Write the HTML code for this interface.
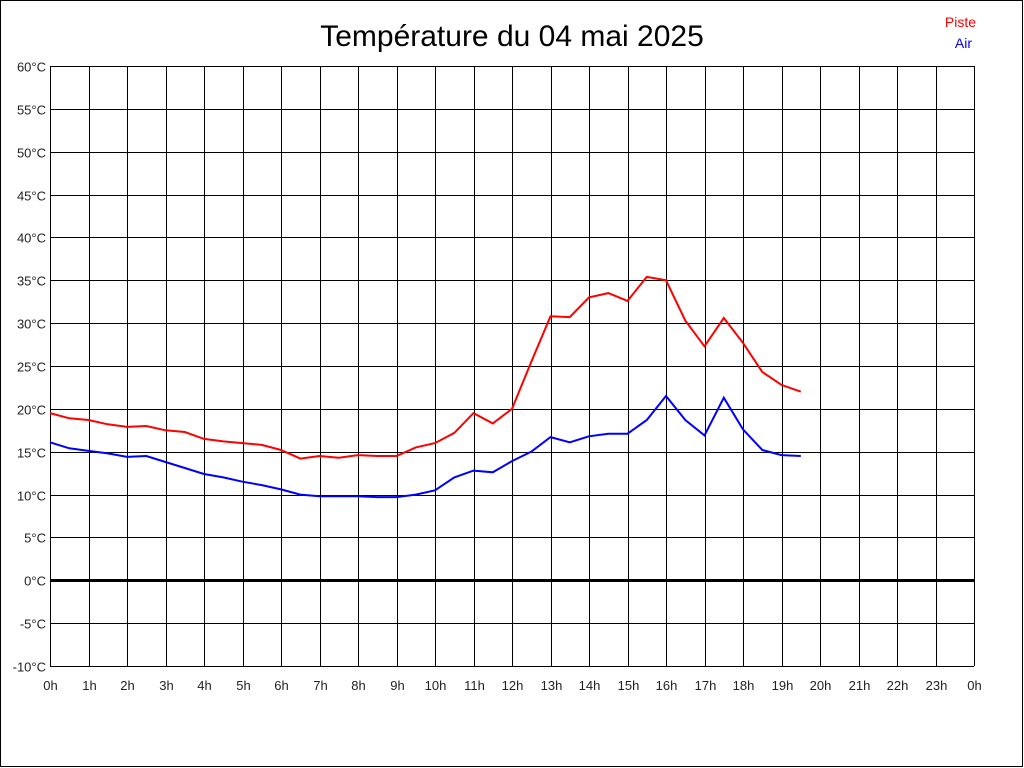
<!DOCTYPE html>
<html><head><meta charset="utf-8"><style>
html,body{margin:0;padding:0;background:#fff;}
svg{display:block;font-family:"Liberation Sans",sans-serif;}
</style></head><body>
<svg id="chart" width="1024" height="768">
<rect x="0.5" y="0.5" width="1022" height="766" fill="#fff" stroke="#000"/>
<text x="512" y="46" font-size="30" text-anchor="middle">Température du 04 mai 2025</text>
<text x="976" y="27" font-size="14" fill="#f00" text-anchor="end">Piste</text>
<text x="972" y="48" font-size="14" fill="#00f" text-anchor="end">Air</text>
<g id="grid"></g><g id="series"></g>
</svg>
<script>
const hours = [0,0.5,1,1.5,2,2.5,3,3.5,4,4.5,5,5.5,6,6.5,7,7.5,8,8.5,9,9.5,10,10.5,11,11.5,12,12.5,13,13.5,14,14.5,15,15.5,16,16.5,17,17.5,18,18.5,19,19.5];
const piste = [19.5,18.9,18.7,18.2,17.9,18.0,17.5,17.3,16.5,16.2,16.0,15.8,15.2,14.2,14.5,14.3,14.6,14.5,14.5,15.5,16.0,17.2,19.5,18.3,20.0,25.5,30.8,30.7,33.0,33.5,32.6,35.4,35.0,30.3,27.3,30.6,27.7,24.3,22.8,22.0];
const air = [16.1,15.4,15.1,14.8,14.4,14.5,13.8,13.1,12.4,12.0,11.5,11.1,10.6,10.0,9.8,9.8,9.8,9.7,9.7,10.0,10.5,12.0,12.8,12.6,13.9,15.0,16.7,16.1,16.8,17.1,17.1,18.7,21.5,18.7,16.9,21.3,17.6,15.2,14.6,14.5];
const yTicks = [-10,-5,0,5,10,15,20,25,30,35,40,45,50,55,60];
const xTicks = [0,1,2,3,4,5,6,7,8,9,10,11,12,13,14,15,16,17,18,19,20,21,22,23,24];
const X0=50,X1=974,Y0=666,Y1=66,ymin=-10,ymax=60;
const sx=h=>X0+(h/24)*(X1-X0);
const sy=v=>Y0-(v-ymin)/(ymax-ymin)*(Y0-Y1);
const NS="http://www.w3.org/2000/svg";
const grid=document.getElementById('grid'), ser=document.getElementById('series');
function mk(tag,attrs,parent){const e=document.createElementNS(NS,tag);for(const k in attrs)e.setAttribute(k,attrs[k]);parent.appendChild(e);return e;}
yTicks.forEach(v=>{
  const y=Math.round(sy(v))+0.5;
  const l=mk('line',{x1:X0,x2:X1,y1:y,y2:y,stroke:'#000','stroke-width':v===0?3:1},grid);
  
  
  const t=mk('text',{x:X0-4,y:y+5,'font-size':13,'text-anchor':'end',fill:'#222'},grid);
  t.textContent=v+'°C';
  
  
});
xTicks.forEach(h=>{
  const x=Math.round(sx(h))+0.5;
  const l=mk('line',{x1:x,x2:x,y1:Y1,y2:Y0,stroke:'#000','stroke-width':1},grid);
  
  
  const t=mk('text',{x:x,y:Y0+24,'font-size':13,'text-anchor':'middle',fill:'#222'},grid);
  t.textContent=(h%24)+'h';
  
  
});
function line(vals,color,name){
  const pts=vals.map((v,i)=>sx(hours[i]).toFixed(1)+','+sy(v).toFixed(1)).join(' ');
  const p=mk('polyline',{points:pts,fill:'none',stroke:color,'stroke-width':2},ser);
  
  
}
line(piste,'#f00','piste-line');
line(air,'#00f','air-line');
</script>
</body></html>
